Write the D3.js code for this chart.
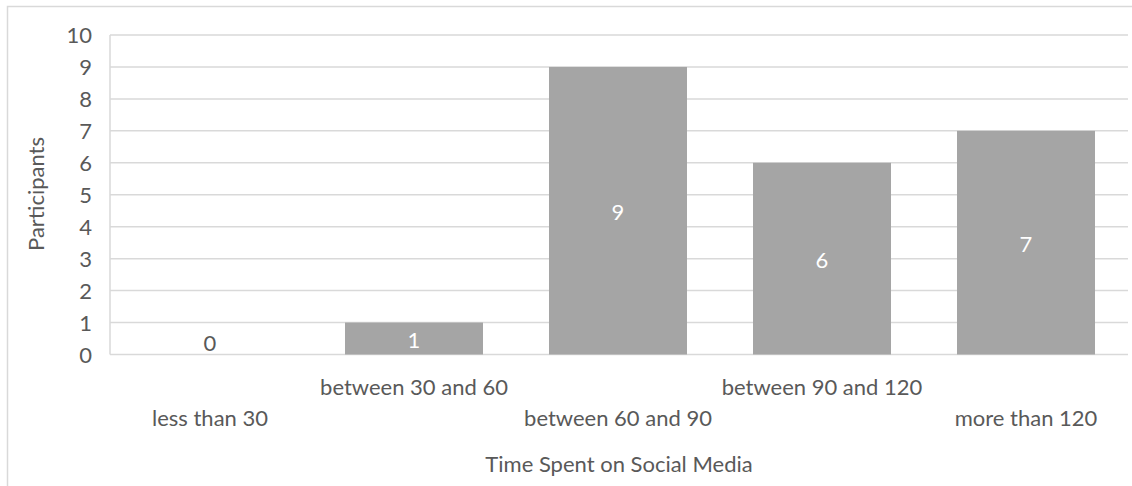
<!DOCTYPE html>
<html>
<head>
<meta charset="utf-8">
<script src="https://cdn.jsdelivr.net/npm/d3@7"></script>
<style>
  html, body { margin: 0; padding: 0; background: #fff; }
  svg { display: block; }
  text { font-family: Lato, "Open Sans", sans-serif; fill: #595959; }
</style>
</head>
<body>
<svg id="chart" width="1132" height="486"></svg>
<script>
// Survey data: time spent on social media per day (minutes)
const categories = ["less than 30", "between 30 and 60", "between 60 and 90", "between 90 and 120", "more than 120"];
const participants = [0, 1, 9, 6, 7];
const yTicks = [0, 1, 2, 3, 4, 5, 6, 7, 8, 9, 10];

const svg = d3.select("#chart");
const plotLeft = 108, plotRight = 1128, plotTop = 35, plotBottom = 354.5;
const fontSize = 22;

// Outer chart frame
svg.append("rect")
  .attr("x", 7.5).attr("y", 6.5)
  .attr("width", 1128).attr("height", 490)
  .attr("fill", "none").attr("stroke", "#d9d9d9").attr("stroke-width", 1.5);

const x = d3.scaleBand()
  .domain(categories)
  .range([plotLeft, plotRight])
  .paddingInner(0.3235)
  .paddingOuter(0.3235 / 2);

const y = d3.scaleLinear().domain([0, 10]).range([plotBottom, plotTop]);

// Horizontal gridlines
svg.append("g")
  .selectAll("line")
  .data(yTicks)
  .join("line")
  .attr("x1", plotLeft + 2).attr("x2", plotRight)
  .attr("y1", d => y(d)).attr("y2", d => y(d))
  .attr("stroke", "#d9d9d9").attr("stroke-width", 1.5);

// Vertical axis line
svg.append("line")
  .attr("x1", plotLeft + 2).attr("x2", plotLeft + 2)
  .attr("y1", y(10)).attr("y2", y(0))
  .attr("stroke", "#d9d9d9").attr("stroke-width", 1.5);

// Y axis tick labels
const yAxis = d3.axisLeft(y).tickValues(yTicks).tickSize(0).tickPadding(0);
const yg = svg.append("g").attr("transform", `translate(92,0)`).call(yAxis);
yg.select(".domain").remove();
yg.selectAll("text")
  .attr("font-size", fontSize)
  .style("font-family", "Lato, 'Open Sans', sans-serif")
  .attr("fill", "#595959")
  .attr("dy", "0.35em");

// Bars
svg.append("g")
  .selectAll("rect")
  .data(categories)
  .join("rect")
  .attr("x", d => x(d))
  .attr("width", x.bandwidth())
  .attr("y", (d, i) => y(participants[i]))
  .attr("height", (d, i) => y(0) - y(participants[i]))
  .attr("fill", "#a5a5a5");

// Value labels centred in each bar
svg.append("g")
  .selectAll("text")
  .data(categories)
  .join("text")
  .attr("x", d => x(d) + x.bandwidth() / 2)
  .attr("y", (d, i) => {
    const v = participants[i];
    return v === 0 ? y(0) - 11 : (y(v) + y(0)) / 2 + 2;
  })
  .attr("dy", "0.35em")
  .attr("text-anchor", "middle")
  .attr("font-size", fontSize)
  .style("fill", (d, i) => participants[i] === 0 ? "#595959" : "#ffffff")
  .text((d, i) => participants[i]);

// Category labels, staggered on two rows
svg.append("g")
  .selectAll("text")
  .data(categories)
  .join("text")
  .attr("x", d => x(d) + x.bandwidth() / 2)
  .attr("y", (d, i) => i % 2 === 0 ? 426 : 395)
  .attr("text-anchor", "middle")
  .attr("font-size", fontSize)
  .text(d => d);

// Axis titles
svg.append("text")
  .attr("x", 619).attr("y", 472)
  .attr("text-anchor", "middle")
  .attr("font-size", fontSize)
  .text("Time Spent on Social Media");

svg.append("text")
  .attr("transform", "translate(44,194) rotate(-90)")
  .attr("text-anchor", "middle")
  .attr("font-size", fontSize)
  .text("Participants");
</script>
</body>
</html>
